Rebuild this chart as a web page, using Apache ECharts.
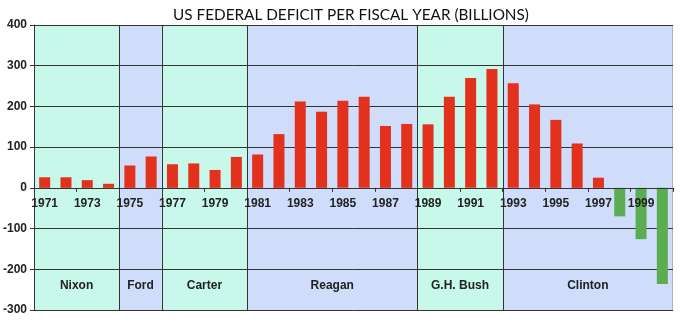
<!DOCTYPE html>
<html><head><meta charset="utf-8">
<script src="https://cdn.jsdelivr.net/npm/echarts@6/dist/echarts.min.js"></script>
<style>html,body{margin:0;padding:0;background:#fff}#c{width:680px;height:323px}</style>
</head><body><div id="c"></div>
<script>
var years = ['1971','1972','1973','1974','1975','1976','1977','1978','1979','1980','1981','1982','1983','1984','1985','1986','1987','1988','1989','1990','1991','1992','1993','1994','1995','1996','1997','1998','1999','2000'];
var deficits = [26,26,19,10,55,77,58,60,44,76,82,132,212,187,214,224,152,157,156,224,270,292,257,205,167,109,25,-70,-126,-236];
var presidents = ['Nixon','Ford','Carter','Reagan','G.H. Bush','Clinton'];
var termStart = [0,4,6,10,18,22];
var termEnd = [3,5,9,17,21,29];
var bandColors = ['#c8f8ea','#cfdcfa','#c8f8ea','#cfdcfa','#c8f8ea','#cfdcfa'];
var yMin = -300, yMax = 400, yStep = 100;

var gridTop = 25, gridBottom = 13, H = 323;
var plotH = H - gridTop - gridBottom;
var zeroOffset = -(0 - yMin) / (yMax - yMin) * plotH;

var terms = presidents.map(function(n,i){return [termStart[i], termEnd[i], i];});
var chart = echarts.init(document.getElementById('c'));
var font = '"Liberation Sans", Arial, sans-serif';
chart.setOption({
  animation:false,
  title:{text:'US FEDERAL DEFICIT PER FISCAL YEAR (BILLIONS)', left:346, textAlign:'center', top:3,
    textStyle:{fontFamily:'Lato, "Open Sans", sans-serif', fontSize:15.3, fontWeight:'normal', color:'#111'}},
  grid:{left:34, right:7, top:gridTop, bottom:gridBottom},
  xAxis:{type:'category', data:years, z:6, offset:zeroOffset,
    axisLine:{onZero:false, lineStyle:{color:'#333', width:1}},
    axisTick:{show:true, length:4, lineStyle:{color:'#333'}},
    axisLabel:{interval:1, margin:10, color:'#222', fontFamily:font, fontWeight:'bold', fontSize:12},
    splitLine:{show:false}},
  yAxis:{type:'value', min:yMin, max:yMax, interval:yStep, z:3,
    axisLine:{show:true, lineStyle:{color:'#333'}},
    axisTick:{show:true, length:4, lineStyle:{color:'#333'}},
    axisLabel:{margin:7, color:'#222', fontFamily:font, fontWeight:'bold', fontSize:12},
    splitLine:{show:true, lineStyle:{color:'#333', width:1}}},
  series:[
   {type:'custom', z:0, data:terms, encode:{x:0, y:-1},
    renderItem:function(params, api){
      var s = api.value(0), e = api.value(1), idx = api.value(2);
      var bw = api.size([1,0])[0];
      var x0 = api.coord([s, yMax])[0] - bw/2;
      var x1 = api.coord([e, yMax])[0] + bw/2;
      var yt = api.coord([s, yMax])[1], yb = api.coord([s, yMin])[1];
      var ly = api.coord([s, -240])[1];
      var children = [
        {type:'rect', z2:0, shape:{x:x0, y:yt, width:x1-x0, height:yb-yt}, style:{fill:bandColors[idx]}},
        {type:'text', z2:20, style:{text:presidents[idx], x:(x0+x1)/2, y:ly, textAlign:'center', textVerticalAlign:'middle',
          font:'bold 12px "Liberation Sans", Arial, sans-serif', fill:'#222'}}
      ];
      if (e < years.length-1) children.push({type:'line', z2:10, shape:{x1:Math.round(x1)+0.5, y1:yt, x2:Math.round(x1)+0.5, y2:yb}, style:{stroke:'#333', lineWidth:1}});
      else children.push({type:'line', z2:10, shape:{x1:Math.round(x1)-0.5, y1:yt, x2:Math.round(x1)-0.5, y2:yb}, style:{stroke:'#b0b0b0', lineWidth:1}});
      return {type:'group', children:children};
    }},
   {type:'bar', z:4, barWidth:11,
    data:deficits.map(function(v){return {value:v, itemStyle:{color: v<0 ? '#5cac52' : '#e2311d'}};})}
  ]
});
</script></body></html>
